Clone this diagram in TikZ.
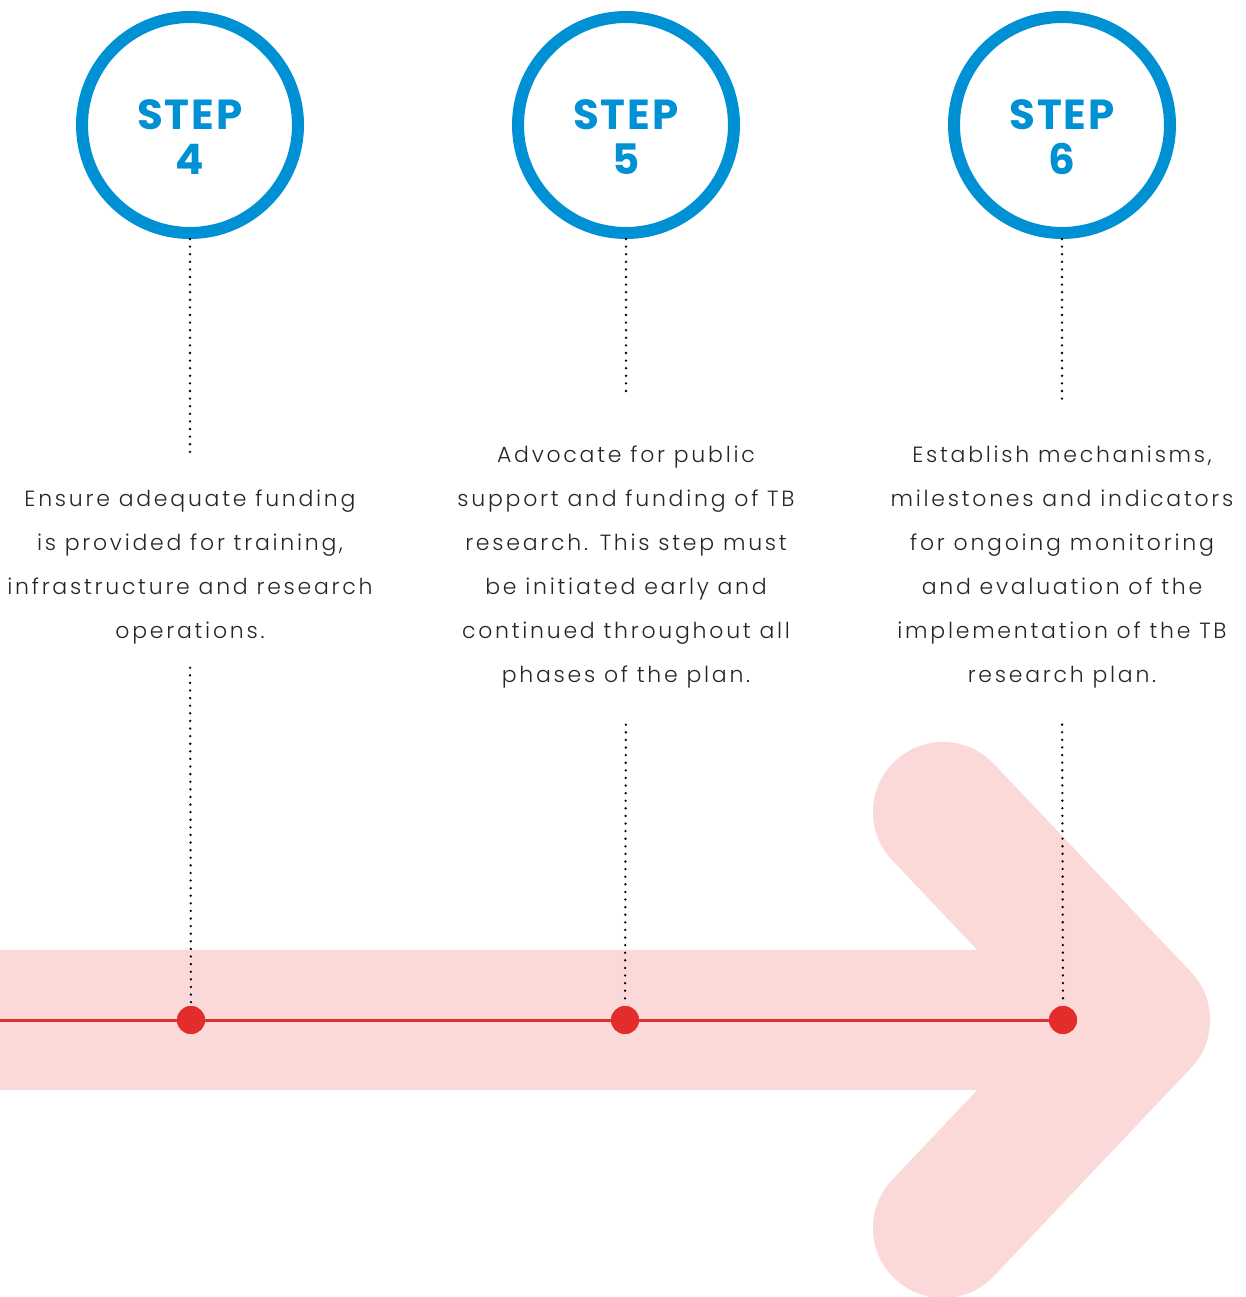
\documentclass[tikz,border=0pt]{standalone}
\usepackage{fontspec}
\setmainfont{Poppins}[UprightFont=* Light, BoldFont=* Bold]
\usetikzlibrary{calc}
\definecolor{stepblue}{HTML}{0090D4}
\definecolor{arrowpink}{HTML}{FAD9D8}
\definecolor{linered}{HTML}{E32D2D}
\begin{document}
\begin{tikzpicture}[x=1pt,y=-1pt,
  stepcircle/.style={circle, draw=stepblue, line width=12pt, minimum size=216pt, inner sep=0pt},
  steplabel/.style={align=center, inner sep=0pt, text=stepblue,
    font=\bfseries\fontsize{42}{45}\selectfont\addfontfeature{LetterSpace=5}},
  desc/.style={align=center, inner sep=0pt, anchor=north, text=black!85,
    font=\fontsize{22}{44}\selectfont\addfontfeature{LetterSpace=12.5}},
  dotline/.style={draw=black, line width=2.6pt, line cap=round, dash pattern=on 0pt off 7.6pt},
  reddot/.style={circle, fill=linered, minimum size=28pt, inner sep=0pt},
  redline/.style={draw=linered, line width=3pt}]
\useasboundingbox (0,0) rectangle (1246,1297);
\clip (0,0) rectangle (1246,1297);
% big arrow
\fill[arrowpink] (0,950) rectangle (1140,1090);
\draw[arrowpink, line width=140pt, line cap=round, line join=round]
  (943,812) -- (1140,1020) -- (943,1228);
% step circles
\node[stepcircle] (c4) at (190,125) {};
\node[stepcircle] (c5) at (626,125) {};
\node[stepcircle] (c6) at (1062,125) {};
\node[steplabel] (l4) at ($(c4)+(0,12.5)$) {STEP\\4};
\node[steplabel] (l5) at ($(c5)+(0,12.5)$) {STEP\\5};
\node[steplabel] (l6) at ($(c6)+(0,12.5)$) {STEP\\6};
% descriptions
\node[desc] (t4) at (190,490) {Ensure adequate funding\\is provided for training,\\infrastructure and research\\operations.};
\node[desc] (t5) at (626,446) {Advocate for public\\support and funding of TB\\research. This step must\\be initiated early and\\continued throughout all\\phases of the plan.};
\node[desc] (t6) at (1062,446) {Establish mechanisms,\\milestones and indicators\\for ongoing monitoring\\and evaluation of the\\implementation of the TB\\research plan.};
% timeline
\coordinate (start) at (0,1020);
\node[reddot] (d4) at (191,1020) {};
\node[reddot] (d5) at (625,1020) {};
\node[reddot] (d6) at (1063,1020) {};
\draw[redline] (start) -- (d4) -- (d5) -- (d6);
% dotted connectors
\draw[dotline, shorten >=35pt] (c4.south) -- (t4.north);
\draw[dotline, shorten >=49pt] (c5.south) -- (t5.north);
\draw[dotline, shorten >=43pt] (c6.south) -- (t6.north);
\draw[dotline, shorten <=23pt] (t4.south) -- (d4.north);
\draw[dotline, shorten <=36pt] (t5.south) -- (d5.north);
\draw[dotline, shorten <=36pt] (t6.south) -- (d6.north);
\node[reddot] at (d4) {};
\node[reddot] at (d5) {};
\node[reddot] at (d6) {};
\end{tikzpicture}
\end{document}
